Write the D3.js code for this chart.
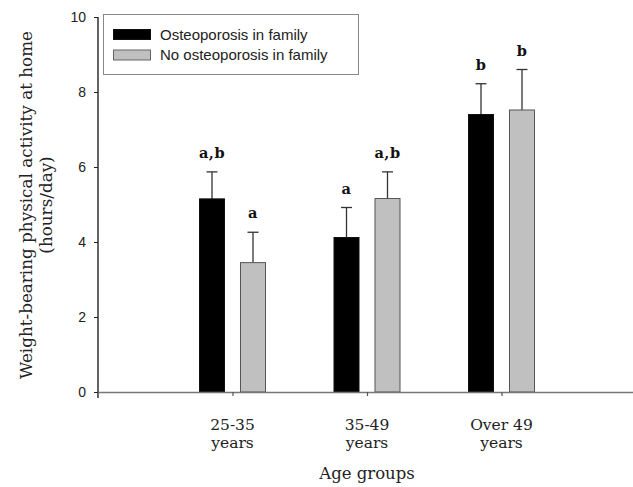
<!DOCTYPE html>
<html>
<head>
<meta charset="utf-8">
<script src="https://cdn.jsdelivr.net/npm/d3@7"></script>
<style>
html,body{margin:0;padding:0;background:#fff;}
svg{display:block;}
</style>
</head>
<body>
<svg id="chart" width="633" height="487"></svg>
<script>
// ---- data ----
const categories = ["25-35 years", "35-49 years", "Over 49 years"];
const categoryLine1 = ["25-35", "35-49", "Over 49"];
const categoryLine2 = ["years", "years", "years"];
const seriesNames = ["Osteoporosis in family", "No osteoporosis in family"];
const familyValues = [5.15, 4.12, 7.40];
const familyErrors = [0.72, 0.80, 0.82];
const noFamilyValues = [3.45, 5.16, 7.52];
const noFamilyErrors = [0.81, 0.71, 1.08];
const familyLetters = ["a,b", "a", "b"];
const noFamilyLetters = ["a", "a,b", "b"];
const yTicks = [0, 2, 4, 6, 8, 10];
const yTitle1 = "Weight-bearing physical activity at home";
const yTitle2 = "(hours/day)";
const xTitle = "Age groups";

const seriesColors = ["#000000", "#c0c0c0"];

const svg = d3.select("#chart");

const x = d3.scaleLinear().domain([0, categories.length + 1]).range([98, 636]);
const y = d3.scaleLinear().domain([0, 10]).range([392, 17]);
const inner = d3.scaleBand().domain([0, 1]).range([-33, 33]).paddingInner(0.39).paddingOuter(0);

const rows = categories.map((c, i) => ({
  i, c,
  series: [
    {s: 0, v: familyValues[i], e: familyErrors[i], l: familyLetters[i]},
    {s: 1, v: noFamilyValues[i], e: noFamilyErrors[i], l: noFamilyLetters[i]}
  ]
}));

const groups = svg.append("g").selectAll("g").data(rows).join("g")
  .attr("transform", d => `translate(${x(d.i + 1)},0)`);

groups.selectAll("g.err").data(d => d.series).join("g").attr("class", "err")
  .each(function(d) {
    const g = d3.select(this);
    const cx = inner(d.s) + inner.bandwidth() / 2;
    g.append("line").attr("x1", cx).attr("x2", cx)
      .attr("y1", y(d.v)).attr("y2", y(d.v + d.e))
      .attr("stroke", "#333").attr("stroke-width", 1.3);
    g.append("line").attr("x1", cx - 5.5).attr("x2", cx + 5.5)
      .attr("y1", y(d.v + d.e)).attr("y2", y(d.v + d.e))
      .attr("stroke", "#333").attr("stroke-width", 1.3);
    g.append("text").attr("x", cx).attr("y", y(d.v + d.e) - 14)
      .attr("text-anchor", "middle")
      .attr("font-family", "'DejaVu Serif', serif")
      .attr("font-weight", "bold")
      .attr("font-size", 14.5)
      .attr("letter-spacing", 0.5)
      .attr("fill", "#111")
      .text(d.l);
  });

groups.selectAll("rect").data(d => d.series).join("rect")
  .attr("x", d => inner(d.s))
  .attr("width", inner.bandwidth())
  .attr("y", d => y(d.v))
  .attr("height", d => y(0) - y(d.v))
  .attr("fill", d => seriesColors[d.s])
  .attr("stroke", d => d.s === 0 ? "#111" : "#555")
  .attr("stroke-width", 1);

// y axis
const yAxis = svg.append("g").attr("transform", `translate(${x(0)},0)`)
  .call(d3.axisLeft(y).tickValues(yTicks).tickSize(4).tickSizeOuter(0).tickPadding(8));
yAxis.select(".domain").remove();
yAxis.selectAll(".tick line").attr("stroke", "#222");
yAxis.selectAll(".tick text")
  .attr("font-family", "'Liberation Sans', Arial, sans-serif")
  .attr("font-size", 14).attr("fill", "#222");
svg.append("line").attr("x1", x(0)).attr("x2", x(0))
  .attr("y1", y(10)).attr("y2", y(0) + 6)
  .attr("stroke", "#222").attr("stroke-width", 1.4);

// x axis
const xAxis = svg.append("g").attr("transform", `translate(0,${y(0)})`)
  .call(d3.axisBottom(x).tickValues(categories.map((c, i) => i + 1)).tickSize(4).tickSizeOuter(0).tickFormat(""));
xAxis.select(".domain").attr("stroke", "#777").attr("stroke-width", 1.4);
xAxis.selectAll(".tick line").attr("stroke", "#555").attr("stroke-width", 1.2);

const xl = svg.append("g").selectAll("text").data(categories).join("text")
  .attr("text-anchor", "middle")
  .attr("font-family", "'DejaVu Serif', serif")
  .attr("font-size", 15.5)
  .attr("fill", "#222");
xl.append("tspan").attr("x", (d, i) => x(i + 1)).attr("y", 430).text((d, i) => categoryLine1[i]);
xl.append("tspan").attr("x", (d, i) => x(i + 1)).attr("y", 448).text((d, i) => categoryLine2[i]);

svg.append("text").attr("x", x(2)).attr("y", 479)
  .attr("text-anchor", "middle")
  .attr("font-family", "'DejaVu Serif', serif")
  .attr("font-size", 16.5).attr("fill", "#222").text(xTitle);

// y title
const yt = svg.append("g").attr("transform", "translate(0,205) rotate(-90)");
yt.append("text").attr("x", 0).attr("y", 32).attr("text-anchor", "middle")
  .attr("font-family", "'DejaVu Serif', serif").attr("font-size", 16.8).attr("fill", "#222").text(yTitle1);
yt.append("text").attr("x", 0).attr("y", 52).attr("text-anchor", "middle")
  .attr("font-family", "'DejaVu Serif', serif").attr("font-size", 16.8).attr("fill", "#222").text(yTitle2);

// legend
const lg = svg.append("g");
lg.append("rect").attr("x", 103.5).attr("y", 14.5).attr("width", 255).attr("height", 60)
  .attr("fill", "#fff").attr("stroke", "#888").attr("stroke-width", 1);
const li = lg.selectAll("g").data(seriesNames).join("g")
  .attr("transform", (d, i) => `translate(0,${i * 20.5})`);
li.append("rect").attr("x", 113.5).attr("y", 29.5).attr("width", 37).attr("height", 10)
  .attr("fill", (d, i) => seriesColors[i]).attr("stroke", (d, i) => i === 0 ? "#111" : "#666");
li.append("text").attr("x", 160).attr("y", 39.5)
  .attr("font-family", "'Liberation Sans', Arial, sans-serif").attr("font-size", 15)
  .attr("fill", "#222").text(d => d);
</script>
</body>
</html>
